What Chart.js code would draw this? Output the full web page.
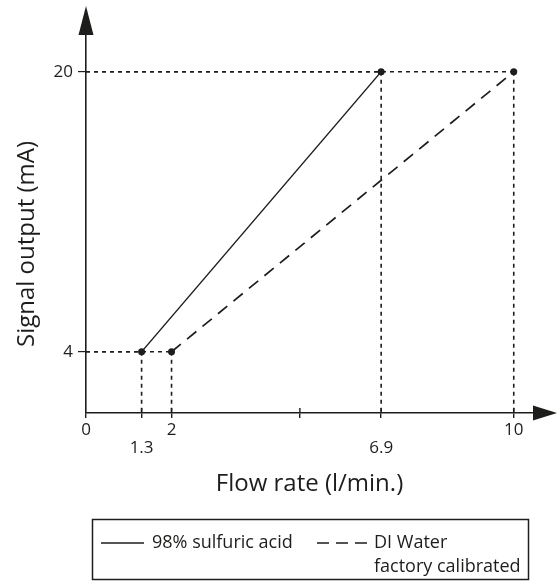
<!DOCTYPE html>
<html>
<head>
<meta charset="utf-8">
<script src="https://cdn.jsdelivr.net/npm/chart.js@4.4.0/dist/chart.umd.min.js"></script>
<style>
  html,body{margin:0;padding:0;background:#fff;}
  #wrap{width:557px;height:582px;position:relative;}
</style>
</head>
<body>
<div id="wrap"><canvas id="grafico"></canvas></div>
<script>
// ===== Dados =====
const nomeAcido = '98% sulfuric acid';
const nomeAgua = ['DI Water', 'factory calibrated'];
const acidoX = [1.3, 6.9];
const acidoY = [4, 20];
const aguaX = [2, 10];
const aguaY = [4, 20];
const ticksX = [0, 1.3, 2, 5, 6.9, 10];
const rotulosX = ['0', '1.3', '2', '', '6.9', '10'];
const baixosX = [1.3, 6.9]; // rótulos deslocados para baixo
const ticksY = [4, 20];
const tituloX = 'Flow rate (l/min.)';
const tituloY = 'Signal output (mA)';

const COR = '#1d1d1b';
const FONTE = '"Open Sans", "Noto Sans", sans-serif';

const pontos = (xs, ys) => xs.map((x, i) => ({x, y: ys[i]}));

// ===== Plugin: guias, setas e legenda =====
const eixos = {
  id: 'eixos',
  beforeDatasetsDraw(chart){
    const {ctx, chartArea:a, scales:{x, y}} = chart;
    ctx.save();
    ctx.strokeStyle = COR;
    ctx.lineWidth = 1.6;
    ctx.setLineDash([4, 4]);
    chart.data.datasets.forEach(ds => {
      ds.data.forEach(p => {
        const px = x.getPixelForValue(p.x), py = y.getPixelForValue(p.y);
        ctx.beginPath();
        ctx.moveTo(a.left, py); ctx.lineTo(px, py);
        ctx.moveTo(px, py); ctx.lineTo(px, a.bottom);
        ctx.stroke();
      });
    });
    ctx.restore();
  },
  afterDraw(chart){
    const {ctx, chartArea:a, scales:{x}} = chart;
    ctx.save();
    ctx.fillStyle = COR;
    ctx.strokeStyle = COR;
    // seta vertical
    ctx.beginPath();
    ctx.moveTo(a.left, 6); ctx.lineTo(a.left - 7.5, a.top); ctx.lineTo(a.left + 7.5, a.top);
    ctx.closePath(); ctx.fill();
    // seta horizontal
    ctx.beginPath();
    ctx.moveTo(557, a.bottom); ctx.lineTo(a.right, a.bottom - 7.5); ctx.lineTo(a.right, a.bottom + 7.5);
    ctx.closePath(); ctx.fill();
    // marcas acima do eixo x
    ctx.lineWidth = 1.4;
    ticksX.forEach(v => {
      if (v === 0) return;
      const px = x.getPixelForValue(v);
      ctx.beginPath(); ctx.moveTo(px, a.bottom - 5); ctx.lineTo(px, a.bottom); ctx.stroke();
    });
    // título do eixo y
    ctx.save();
    ctx.translate(27, 244);
    ctx.rotate(-Math.PI/2);
    ctx.font = '24px ' + FONTE;
    ctx.textAlign = 'center';
    ctx.textBaseline = 'middle';
    ctx.fillText(tituloY, 0, 0);
    ctx.restore();
    // legenda
    ctx.lineWidth = 1.5;
    ctx.strokeRect(92.5, 519.5, 436, 60);
    ctx.lineWidth = 1.3;
    ctx.beginPath(); ctx.moveTo(101, 543); ctx.lineTo(144, 543); ctx.stroke();
    ctx.lineWidth = 1.5;
    ctx.setLineDash([12, 7]);
    ctx.beginPath(); ctx.moveTo(317, 543); ctx.lineTo(368, 543); ctx.stroke();
    ctx.setLineDash([]);
    ctx.font = '18px ' + FONTE;
    ctx.textBaseline = 'middle';
    ctx.textAlign = 'left';
    ctx.fillText(nomeAcido, 152, 543);
    ctx.fillText(nomeAgua[0], 374, 543);
    ctx.fillText(nomeAgua[1], 374, 567);
    ctx.restore();
  }
};

// ===== Gráfico =====
new Chart(document.getElementById('grafico'), {
  type: 'scatter',
  data: {
    datasets: [
      { label: nomeAcido, data: pontos(acidoX, acidoY), showLine: true,
        borderColor: COR, backgroundColor: COR, borderWidth: 1.2,
        pointRadius: 3.5, pointBorderWidth: 0 },
      { label: nomeAgua.join(' '), data: pontos(aguaX, aguaY), showLine: true,
        borderColor: COR, backgroundColor: COR, borderWidth: 1.7, borderDash: [12, 8],
        pointRadius: 3.5, pointBorderWidth: 0 }
    ]
  },
  options: {
    responsive: true, maintainAspectRatio: false, animation: false,
    layout: { padding: { left: 0, top: 35, right: 24, bottom: 82 } },
    plugins: { legend: { display: false }, tooltip: { enabled: false } },
    scales: {
      x: {
        type: 'linear', min: 0, max: 10.45,
        afterBuildTicks: s => { s.ticks = ticksX.map(v => ({value: v})); },
        afterFit: s => { s.height = 87; },
        border: { display: true, color: COR, width: 1.6 },
        grid: { display: true, drawOnChartArea: false, drawTicks: true, tickLength: 5, color: COR, lineWidth: 1.4 },
        ticks: {
          color: COR, font: { family: FONTE, size: 17, lineHeight: 1.05 }, padding: 3, maxRotation: 0, autoSkip: false,
          callback: v => {
            const r = rotulosX[ticksX.indexOf(v)];
            return baixosX.includes(v) ? ['', r] : r;
          }
        },
        title: { display: true, text: tituloX, color: COR, font: { family: FONTE, size: 24 }, padding: { top: 0, bottom: 1 } }
      },
      y: {
        type: 'linear', min: 0.5, max: 22.1,
        afterBuildTicks: s => { s.ticks = ticksY.map(v => ({value: v})); },
        afterFit: s => { s.width = 86; },
        border: { display: true, color: COR, width: 1.6 },
        grid: { display: true, drawOnChartArea: false, drawTicks: true, tickLength: 8, color: COR, lineWidth: 1.2 },
        ticks: { color: COR, font: { family: FONTE, size: 17 }, padding: 5 }
      }
    }
  },
  plugins: [eixos]
});
</script>
</body>
</html>
